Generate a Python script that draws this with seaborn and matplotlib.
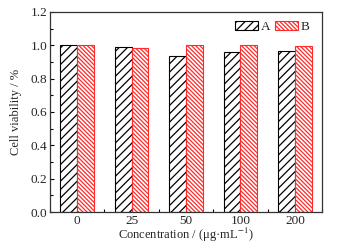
import matplotlib
matplotlib.use("Agg")
import matplotlib.pyplot as plt
import seaborn as sns
import pandas as pd
from matplotlib.ticker import MultipleLocator, FixedLocator

concentrations = ["0", "25", "50", "100", "200"]
series_a = [1.000, 0.988, 0.937, 0.962, 0.968]
series_b = [1.000, 0.984, 1.004, 1.000, 0.996]
series_names = ["A", "B"]

df = pd.DataFrame({
    "conc": concentrations * 2,
    "value": series_a + series_b,
    "series": [series_names[0]] * len(series_a) + [series_names[1]] * len(series_b),
})

sns.set_theme(style="ticks")
plt.rcParams["font.family"] = ["Liberation Serif", "DejaVu Serif"]
plt.rcParams["mathtext.fontset"] = "stix"
plt.rcParams["hatch.linewidth"] = 0.9

fig = plt.figure(figsize=(3.42, 2.44), dpi=100)
ax = fig.add_axes([0.146, 0.131, 0.796, 0.820])

sns.barplot(data=df, x="conc", y="value", hue="series", order=concentrations,
            hue_order=series_names, width=0.62, ax=ax, legend=False,
            palette=["white", "white"], saturation=1)

styles = [("black", "////"), ("#ff2a2a", "\\\\\\\\\\\\\\\\")]
for cont, (ec, h) in zip(ax.containers, styles):
    for p in cont.patches:
        p.set_facecolor("white")
        p.set_edgecolor(ec)
        p.set_hatch(h)
        p.set_linewidth(0.8)

ax.legend([c.patches[0] for c in ax.containers], series_names, loc="center right",
          ncol=2, frameon=False, fontsize=9.5, handlelength=1.8, handleheight=0.6,
          columnspacing=0.3, handletextpad=0.2, bbox_to_anchor=(0.955, 0.925),
          borderaxespad=0, borderpad=0)

ax.set_ylim(0, 1.2)
ax.set_xlim(-0.5, 4.5)
ax.yaxis.set_major_locator(MultipleLocator(0.2))
ax.yaxis.set_minor_locator(MultipleLocator(0.1))
ax.xaxis.set_minor_locator(FixedLocator([-0.5, 0.5, 1.5, 2.5, 3.5, 4.5]))
ax.tick_params(which="both", direction="in", labelsize=9.5, width=0.8, color="black",
               top=False, right=False, pad=2)
ax.tick_params(which="major", length=3)
ax.tick_params(which="minor", length=2)
ax.set_yticklabels([f"{v:.1f}" for v in ax.get_yticks()])
for s in ax.spines.values():
    s.set_visible(True)
    s.set_color("#333333")
    s.set_linewidth(0.9)

ax.set_xlabel("Concentration / (μg·mL$^{-1}$)", fontsize=9, labelpad=-1)
ax.set_ylabel("Cell viability / %", fontsize=9, labelpad=6)

fig.savefig("out.png", dpi=100)
